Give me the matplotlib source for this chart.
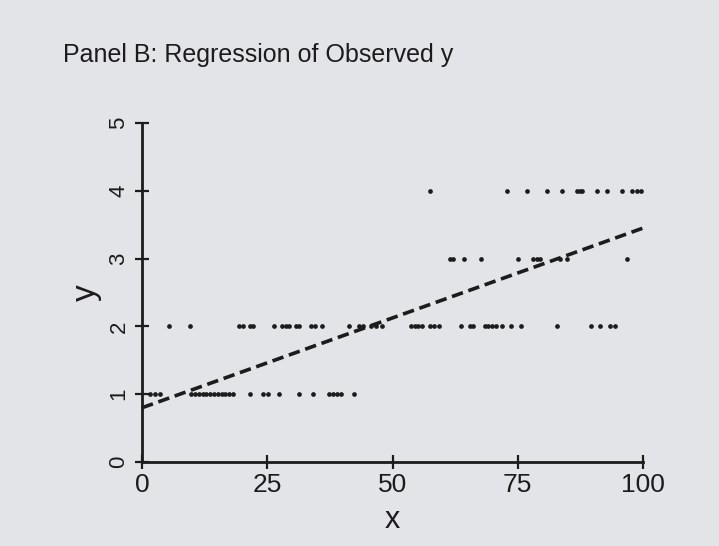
import matplotlib
matplotlib.use("Agg")
import matplotlib.pyplot as plt
import numpy as np

# ---- data ----
x_y1 = [1.6, 2.6, 3.6, 9.8, 10.6, 11.3, 12.1, 12.8, 13.6, 14.3, 15.1, 15.9, 16.6,
        17.4, 18.1, 21.5, 24.2, 25.2, 27.3, 31.4, 34.2, 37.3, 38.1, 39.0, 39.8, 42.4]
x_y2 = [5.4, 9.5, 19.4, 20.1, 21.5, 22.2, 26.3, 28.0, 28.7, 29.4, 30.7, 31.4, 33.8,
        34.5, 35.9, 41.4, 43.4, 44.1, 45.8, 46.8, 47.9, 53.7, 54.4, 55.1, 55.8, 57.5,
        58.2, 59.2, 63.7, 65.4, 66.1, 68.5, 69.1, 69.8, 70.7, 71.9, 73.6, 75.7, 82.9,
        89.7, 91.4, 93.5, 94.5]
x_y3 = [61.5, 62.1, 64.2, 67.6, 75.0, 78.1, 78.8, 79.4, 83.5, 84.9, 96.9]
x_y4 = [57.5, 72.8, 76.8, 80.8, 83.8, 86.9, 87.4, 87.9, 90.9, 92.8, 95.9, 97.9,
        98.8, 99.7]
y_levels = [1, 2, 3, 4]

line_x = [0, 100]
line_y = [0.8, 3.45]

x_ticks = [0, 25, 50, 75, 100]
y_ticks = [0, 1, 2, 3, 4, 5]

title = "Panel B: Regression of Observed y"
x_label = "x"
y_label = "y"

# ---- style ----
bg = "#e2e4e7"
ink = "#1c1c1c"
plt.rcParams["font.family"] = ["Liberation Sans", "DejaVu Sans"]

fig = plt.figure(figsize=(7.19, 5.46), dpi=100, facecolor=bg)
ax = fig.add_axes([142 / 719, 1 - 462 / 546, (643 - 142) / 719, (462 - 123) / 546])
ax.set_facecolor(bg)

for xs, lev in zip([x_y1, x_y2, x_y3, x_y4], y_levels):
    ax.plot(xs, [lev] * len(xs), linestyle="none", marker="o", markersize=3.4,
            color=ink, markeredgewidth=0, clip_on=False)

ax.plot(line_x, line_y, linestyle=(0, (3.2, 1.6)), color=ink, linewidth=2.6,
        clip_on=False)

ax.set_xlim(0, 100)
ax.set_ylim(0, 5)
ax.set_xticks(x_ticks)
ax.set_yticks(y_ticks)
ax.set_xticklabels([str(t) for t in x_ticks], fontsize=19, color=ink)
ax.set_yticklabels([str(t) for t in y_ticks], fontsize=16, color=ink,
                   rotation=90, va="center")
ax.tick_params(axis="both", direction="inout", length=10, width=1.6, color=ink)
ax.tick_params(axis="x", pad=3)
ax.tick_params(axis="y", pad=4)

for s in ["top", "right"]:
    ax.spines[s].set_visible(False)
for s in ["left", "bottom"]:
    ax.spines[s].set_linewidth(2)
    ax.spines[s].set_color(ink)

ax.set_xlabel(x_label, fontsize=22, color=ink, labelpad=6)
ax.set_ylabel(y_label, fontsize=24, color=ink, labelpad=5)

fig.text(63 / 719, 1 - 62 / 546, title, fontsize=18, color=ink,
         ha="left", va="baseline")

fig.savefig("out.png", dpi=100, facecolor=bg)
